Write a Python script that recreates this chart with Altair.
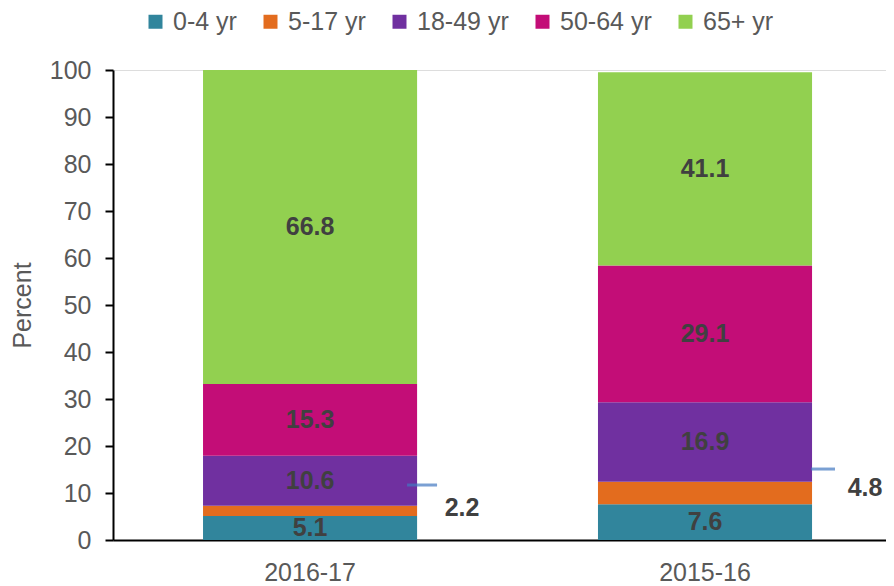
import altair as alt
import pandas as pd

years = ["2016-17", "2015-16"]
groups = ["0-4 yr", "5-17 yr", "18-49 yr", "50-64 yr", "65+ yr"]
colors = ["#31859C", "#E36C1E", "#7030A0", "#C30D77", "#92D050"]
values_2016_17 = [5.1, 2.2, 10.6, 15.3, 66.8]
values_2015_16 = [7.6, 4.8, 16.9, 29.1, 41.1]

# callouts for the small 5-17 yr segments
callout_years = ["2016-17", "2015-16"]
callout_values = [2.2, 4.8]
callout_leader_y = [11.7, 15.1]
callout_label_y = [6.8, 11.1]

rows = []
for yr, vals in zip(years, [values_2016_17, values_2015_16]):
    for i, (g, v) in enumerate(zip(groups, vals)):
        rows.append({"year": yr, "group": g, "value": v, "order": i})
df = pd.DataFrame(rows)

cdf = pd.DataFrame({"year": callout_years, "value": callout_values,
                    "lead": callout_leader_y, "lab": callout_label_y})

FONT = "Liberation Sans"
GRAY = "#595959"

x_enc = alt.X("year:N", sort=years,
              scale=alt.Scale(domain=years, paddingInner=0.458, paddingOuter=0.2076, align=0.549),
              axis=alt.Axis(title=None, labelAngle=0, ticks=False, domainColor="black",
                            domainWidth=2, labelColor=GRAY, labelFontSize=25,
                            labelFont=FONT, labelPadding=20))
y_scale = alt.Scale(domain=[0, 100], nice=False)

bars = alt.Chart(df).mark_bar().encode(
    x=x_enc,
    y=alt.Y("value:Q", stack="zero", scale=y_scale,
            axis=alt.Axis(values=list(range(0, 101, 10)), grid=False, title="Percent",
                          domainColor="black", domainWidth=2, tickColor="black",
                          tickWidth=2, tickSize=8, labelColor=GRAY, labelFontSize=25,
                          labelFont=FONT, labelPadding=14, titleFont=FONT,
                          titleFontSize=25, titleFontWeight="normal", titleColor=GRAY,
                          titlePadding=14)),
    color=alt.Color("group:N", sort=groups,
                    scale=alt.Scale(domain=groups, range=colors),
                    legend=alt.Legend(title=None, orient="none", direction="horizontal",
                                      legendX=30, legendY=-61, symbolType="square",
                                      symbolSize=196, symbolStrokeWidth=0,
                                      labelFontSize=25, labelFont=FONT, labelColor=GRAY,
                                      columnPadding=21, labelOffset=5, columns=5)),
    order=alt.Order("order:Q", sort="ascending"),
)

labels = alt.Chart(df).transform_stack(
    stack="value", as_=["y0", "y1"], groupby=["year"],
    sort=[alt.SortField("order", order="ascending")]
).transform_calculate(
    mid="(datum.y0 + datum.y1) / 2"
).transform_filter(
    "datum.group != '5-17 yr'"
).mark_text(font=FONT, fontSize=25, fontWeight="bold", color="#404040").encode(
    x=alt.X("year:N", sort=years),
    y=alt.Y("mid:Q", scale=y_scale),
    text=alt.Text("value:Q", format=".1f"),
)

layers = [bars, labels]
lead_offsets = {"2016-17": (112, 30, 152), "2015-16": (118, 24, 160)}
for yr in callout_years:
    off, size, toff = lead_offsets[yr]
    sub = alt.Chart(cdf).transform_filter(alt.datum.year == yr)
    layers.append(sub.mark_tick(orient="horizontal", size=size, thickness=3,
                                color="#4178C0", xOffset=off).encode(
        x=alt.X("year:N", sort=years), y=alt.Y("lead:Q", scale=y_scale)))
    layers.append(sub.mark_text(font=FONT, fontSize=25, fontWeight="bold",
                                color="#404040", xOffset=toff).encode(
        x=alt.X("year:N", sort=years), y=alt.Y("lab:Q", scale=y_scale),
        text=alt.Text("value:Q", format=".1f")))

chart = alt.layer(*layers).properties(
    width=773, height=470,
    autosize=alt.AutoSizeParams(type="none"),
    padding={"left": 105, "top": 62, "right": 0, "bottom": 44},
).configure_view(stroke=None).configure(background="white")

chart.save("out.html", embed_options={"renderer": "svg", "actions": False})
